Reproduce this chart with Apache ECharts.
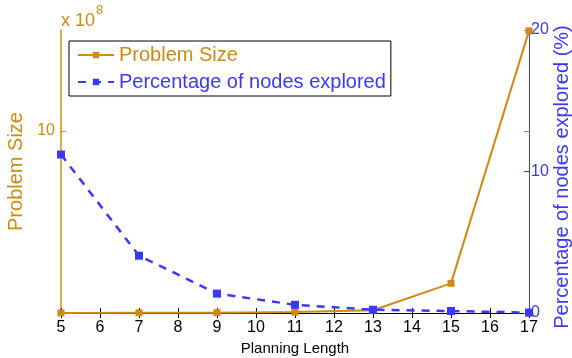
<!DOCTYPE html>
<html><head><meta charset="utf-8">
<script src="https://cdn.jsdelivr.net/npm/echarts@6/dist/echarts.min.js"></script>
<style>html,body{margin:0;padding:0;background:#fff}#c{width:572px;height:358px}</style>
</head><body><div id="c"></div>
<script>
const planningLength = [5, 7, 9, 11, 13, 15, 17];
const problemSize = [0.0, 0.01, 0.02, 0.05, 0.15, 1.63, 15.5]; // x 10^8
const percentExplored = [11.2, 4.05, 1.37, 0.58, 0.23, 0.14, 0.03];
const xTicks = [5, 17, 1];
const leftTicks = [0, 15.55, 10];
const rightTicks = [0, 20, 10];
const rightAxisName = 'Percentage of nodes explored (%)';

const ORANGE = '#D08A12';
const BLUE = '#3838FF';
const FONT = 'Liberation Sans, Arial, sans-serif';

const chart = echarts.init(document.getElementById('c'), null, {renderer: 'canvas'});
chart.setOption({
  animation: false,
  backgroundColor: '#fff',
  grid: {left: 61, right: 43, top: 30, bottom: 45, containLabel: false, outerBoundsMode: 'none'},
  legend: {
    orient: 'vertical', left: 69, top: 41,
    backgroundColor: '#fff', borderColor: '#000', borderWidth: 1,
    padding: [4, 5, 4, 8], itemGap: 7, itemWidth: 36, itemHeight: 8,
    textStyle: {fontFamily: FONT, fontSize: 20},
    data: [
      {name: 'Problem Size', textStyle: {color: ORANGE}},
      {name: 'Percentage of nodes explored', textStyle: {color: BLUE}}
    ]
  },
  graphic: [{
    type: 'text', left: 61, top: 4,
    style: {
      text: '{a|x 10}{b|8}',
      rich: {
        a: {fontFamily: FONT, fontSize: 18, fill: ORANGE, padding: [8, 0, 0, 0]},
        b: {fontFamily: FONT, fontSize: 13, fill: ORANGE, verticalAlign: 'top', padding: [0, 0, 6, 1]}
      }
    }
  }, {
    type: 'text', x: 562, y: 177, rotation: Math.PI / 2,
    style: {
      text: rightAxisName, fontFamily: FONT, fontSize: 20, fill: BLUE,
      align: 'center', verticalAlign: 'middle'
    }
  }],
  xAxis: [{
    type: 'value', min: xTicks[0], max: xTicks[1], interval: xTicks[2],
    name: 'Planning Length', nameLocation: 'middle', nameGap: 25,
    nameTextStyle: {fontFamily: FONT, fontSize: 15, color: '#000'},
    axisLine: {lineStyle: {color: '#000', width: 1}},
    axisTick: {inside: true, length: 5, lineStyle: {color: '#000'}},
    axisLabel: {fontFamily: FONT, fontSize: 16, color: '#000', margin: 7},
    splitLine: {show: false}
  }, {
    type: 'value', position: 'top', min: xTicks[0], max: xTicks[1], interval: xTicks[2],
    axisLine: {lineStyle: {color: '#000', width: 1}},
    axisTick: {inside: true, length: 5, lineStyle: {color: '#000'}},
    axisLabel: {show: false}, splitLine: {show: false}
  }],
  yAxis: [{
    type: 'value', position: 'left', min: leftTicks[0], max: leftTicks[1], interval: leftTicks[2],
    name: 'Problem Size', nameLocation: 'middle', nameGap: 27, nameRotate: 90,
    nameTextStyle: {fontFamily: FONT, fontSize: 20, color: ORANGE},
    axisLine: {show: true, lineStyle: {color: ORANGE, width: 1.5}},
    axisTick: {show: true, inside: true, length: 5, lineStyle: {color: ORANGE}},
    axisLabel: {fontFamily: FONT, fontSize: 16, color: ORANGE, margin: 6,
      formatter: v => (v === 0 ? '' : String(v)), showMaxLabel: false},
    splitLine: {show: false}
  }, {
    type: 'value', position: 'right', min: rightTicks[0], max: rightTicks[1], interval: rightTicks[2],
    axisLine: {show: true, lineStyle: {color: BLUE, width: 1}},
    axisTick: {show: true, inside: true, length: 5, lineStyle: {color: BLUE}},
    axisLabel: {fontFamily: FONT, fontSize: 16, color: BLUE, margin: 2},
    splitLine: {show: false}
  }, {
    type: 'value', position: 'right', min: leftTicks[0], max: leftTicks[1], interval: leftTicks[2],
    axisLine: {show: false},
    axisTick: {show: true, inside: true, length: 5, lineStyle: {color: ORANGE}},
    axisLabel: {show: false}, splitLine: {show: false}
  }],
  series: [{
    name: 'Problem Size', type: 'line', xAxisIndex: 0, yAxisIndex: 0,
    data: planningLength.map((x, i) => [x, problemSize[i]]),
    symbol: 'rect', symbolSize: 7, showSymbol: true,
    lineStyle: {color: ORANGE, width: 2}, itemStyle: {color: ORANGE},
    clip: false, z: 3
  }, {
    name: 'Percentage of nodes explored', type: 'line', xAxisIndex: 0, yAxisIndex: 1,
    data: planningLength.map((x, i) => [x, percentExplored[i]]),
    symbol: 'rect', symbolSize: 8, showSymbol: true,
    lineStyle: {color: BLUE, width: 2.5, type: [8, 7]}, itemStyle: {color: BLUE},
    clip: false, z: 4
  }]
});
</script></body></html>
